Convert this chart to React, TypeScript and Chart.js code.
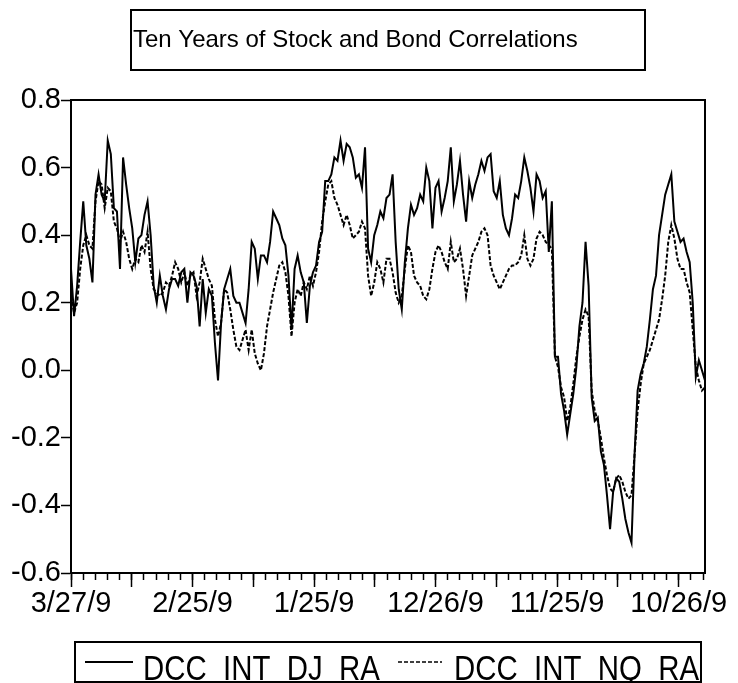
import React, { useEffect, useRef } from "react";
import { Chart, registerables } from "chart.js";

Chart.register(...registerables);

const FONT = "'Liberation Sans', Arial, Helvetica, sans-serif";
const NARROW = "'Liberation Sans Narrow', 'Arial Narrow'";

// Observations between two sampled points (trading days)
const OBS_STEP = 12.6;

// DCC_INT_DJ_RA (solid)
const djRa = [
  0.30, 0.16, 0.25, 0.38, 0.50, 0.37, 0.33, 0.26, 0.52, 0.58,
  0.52, 0.50, 0.68, 0.64, 0.48, 0.47, 0.30, 0.63, 0.55, 0.48,
  0.42, 0.32, 0.39, 0.40, 0.46, 0.50, 0.40, 0.25, 0.20, 0.28,
  0.22, 0.18, 0.24, 0.27, 0.27, 0.25, 0.29, 0.30, 0.20, 0.29,
  0.28, 0.25, 0.13, 0.27, 0.17, 0.24, 0.22, 0.08, -0.03, 0.14,
  0.24, 0.27, 0.30, 0.22, 0.20, 0.20, 0.17, 0.14, 0.24, 0.38,
  0.36, 0.27, 0.34, 0.34, 0.32, 0.38, 0.47, 0.45, 0.43, 0.39,
  0.37, 0.28, 0.12, 0.30, 0.34, 0.29, 0.26, 0.14, 0.25, 0.29,
  0.31, 0.38, 0.41, 0.56, 0.56, 0.58, 0.63, 0.62, 0.68, 0.62,
  0.67, 0.66, 0.63, 0.57, 0.58, 0.54, 0.66, 0.36, 0.32, 0.40,
  0.43, 0.47, 0.45, 0.51, 0.52, 0.58, 0.38, 0.24, 0.18, 0.32,
  0.42, 0.49, 0.46, 0.48, 0.52, 0.50, 0.60, 0.56, 0.42, 0.54,
  0.56, 0.47, 0.51, 0.56, 0.66, 0.50, 0.55, 0.62, 0.52, 0.44,
  0.56, 0.51, 0.55, 0.58, 0.62, 0.59, 0.63, 0.64, 0.53, 0.51,
  0.56, 0.46, 0.42, 0.40, 0.45, 0.52, 0.51, 0.56, 0.63, 0.59,
  0.54, 0.47, 0.58, 0.56, 0.51, 0.53, 0.35, 0.50, 0.04, 0.04,
  -0.07, -0.12, -0.19, -0.13, -0.07, 0.01, 0.13, 0.20, 0.38, 0.25,
  -0.08, -0.15, -0.14, -0.24, -0.28, -0.37, -0.47, -0.36, -0.32, -0.33,
  -0.38, -0.44, -0.48, -0.51, -0.25, -0.06, -0.01, 0.02, 0.07, 0.15,
  0.24, 0.28, 0.40, 0.46, 0.52, 0.55, 0.58, 0.44, 0.41, 0.38,
  0.39, 0.35, 0.32, 0.20, -0.02, 0.03, 0.00, -0.03,
];

// DCC_INT_NQ_RA (dashed)
const nqRa = [
  0.22, 0.17, 0.20, 0.30, 0.37, 0.40, 0.37, 0.36, 0.50, 0.56,
  0.55, 0.48, 0.54, 0.53, 0.44, 0.42, 0.38, 0.41, 0.38, 0.33,
  0.30, 0.33, 0.32, 0.37, 0.35, 0.41, 0.30, 0.24, 0.23, 0.22,
  0.23, 0.26, 0.25, 0.28, 0.32, 0.30, 0.26, 0.29, 0.25, 0.28,
  0.29, 0.22, 0.26, 0.33, 0.30, 0.27, 0.25, 0.15, 0.10, 0.14,
  0.24, 0.23, 0.18, 0.12, 0.07, 0.06, 0.09, 0.12, 0.06, 0.12,
  0.05, 0.02, 0.00, 0.05, 0.13, 0.18, 0.23, 0.27, 0.31, 0.32,
  0.29, 0.22, 0.10, 0.20, 0.24, 0.22, 0.26, 0.24, 0.28, 0.25,
  0.29, 0.35, 0.44, 0.50, 0.55, 0.56, 0.51, 0.49, 0.46, 0.43,
  0.46, 0.43, 0.39, 0.40, 0.41, 0.44, 0.42, 0.28, 0.22, 0.26,
  0.32, 0.30, 0.26, 0.33, 0.33, 0.29, 0.23, 0.20, 0.22, 0.30,
  0.37, 0.35, 0.28, 0.26, 0.25, 0.22, 0.21, 0.24, 0.30, 0.35,
  0.37, 0.35, 0.32, 0.30, 0.38, 0.32, 0.33, 0.36, 0.30, 0.22,
  0.28, 0.34, 0.36, 0.38, 0.41, 0.42, 0.40, 0.31, 0.28, 0.26,
  0.24, 0.26, 0.28, 0.30, 0.31, 0.31, 0.32, 0.34, 0.40, 0.33,
  0.31, 0.33, 0.39, 0.41, 0.40, 0.38, 0.37, 0.36, 0.04, 0.01,
  -0.05, -0.08, -0.15, -0.11, -0.04, 0.04, 0.10, 0.15, 0.18, 0.16,
  -0.06, -0.12, -0.15, -0.20, -0.26, -0.31, -0.35, -0.36, -0.32, -0.31,
  -0.33, -0.36, -0.38, -0.37, -0.25, -0.12, -0.04, 0.02, 0.04, 0.06,
  0.09, 0.12, 0.15, 0.21, 0.28, 0.38, 0.43, 0.39, 0.33, 0.30,
  0.30, 0.26, 0.23, 0.12, 0.01, -0.03, -0.06, -0.05,
];

const seriesNames = ["DCC_INT_DJ_RA", "DCC_INT_NQ_RA"];
const titleText = "Ten Years of Stock and Bond Correlations";

const xTickLabels = ["3/27/9", "2/25/9", "1/25/9", "12/26/9", "11/25/9", "10/26/9"];
const xTickObs = [0, 500, 1000, 1500, 2000, 2500];
const xMajorObs = [0, 250, 500, 750, 1000, 1250, 1500, 1750, 2000, 2250, 2500];
const xMinorObs = [
  0, 50, 100, 150, 200, 250, 300, 350, 400, 450, 500, 550, 600, 650, 700, 750,
  800, 850, 900, 950, 1000, 1050, 1100, 1150, 1200, 1250, 1300, 1350, 1400,
  1450, 1500, 1550, 1600, 1650, 1700, 1750, 1800, 1850, 1900, 1950, 2000,
  2050, 2100, 2150, 2200, 2250, 2300, 2350, 2400, 2450, 2500, 2550, 2600,
];
const yTicks = [-0.6, -0.4, -0.2, 0.0, 0.2, 0.4, 0.6, 0.8];

function fontInstalled(family: string): boolean {
  const c = document.createElement("canvas").getContext("2d");
  if (!c) return false;
  const t = "DCC_INT_DJ_RA 10/26/9 0.8";
  let diff = false;
  for (const fb of ["monospace", "serif"]) {
    c.font = `40px ${fb}`;
    const a = c.measureText(t).width;
    c.font = `40px ${family}, ${fb}`;
    const b = c.measureText(t).width;
    if (Math.abs(a - b) > 0.5) diff = true;
  }
  return diff;
}

export default function App() {
  const ref = useRef<HTMLCanvasElement>(null);

  useEffect(() => {
    const canvas = ref.current;
    if (!canvas) return;

    const narrowOk = fontInstalled("'Liberation Sans Narrow'") || fontInstalled("'Arial Narrow'");
    const tickFamily = narrowOk ? `${NARROW}, ${FONT}` : FONT;
    const yTickSize = narrowOk ? 32 : 29;
    const xTickSize = narrowOk ? 31 : 29;
    const legendSize = 35;
    const legendScale = narrowOk ? 1 : 0.84;

    const obs = djRa.map((_, i) => Math.round(i * OBS_STEP * 10) / 10);
    const lastObs = obs[obs.length - 1];

    const decorPlugin = {
      id: "decor",
      afterDraw(chart: any) {
        const { ctx, chartArea: a } = chart;
        ctx.save();
        ctx.strokeStyle = "#000";
        ctx.fillStyle = "#000";
        ctx.lineWidth = 2;
        // plot frame
        ctx.strokeRect(a.left, a.top, a.right - a.left, a.bottom - a.top);

        // title box
        ctx.strokeRect(131, 10, 514, 60);
        ctx.font = `24px ${FONT}`;
        ctx.textBaseline = "alphabetic";
        ctx.textAlign = "left";
        ctx.fillText(titleText, 133, 47);

        // legend box
        ctx.strokeRect(75, 642, 626, 40);
        ctx.beginPath();
        ctx.moveTo(85, 662);
        ctx.lineTo(133, 662);
        ctx.stroke();
        ctx.save();
        ctx.setLineDash([4, 2]);
        ctx.lineWidth = 1.5;
        ctx.beginPath();
        ctx.moveTo(398, 662);
        ctx.lineTo(442, 662);
        ctx.stroke();
        ctx.restore();

        ctx.font = `${legendSize}px ${tickFamily}`;
        const drawText = (t: string, x: number, y: number) => {
          ctx.save();
          ctx.translate(x, y);
          ctx.scale(legendScale, 1);
          ctx.fillText(t, 0, 0);
          ctx.restore();
        };
        drawText(seriesNames[0], 143, 680);
        drawText(seriesNames[1], 454, 680);
        ctx.restore();
      },
    };

    const chart = new Chart(canvas, {
      type: "line",
      data: {
        datasets: [
          {
            label: seriesNames[0],
            data: djRa.map((v, i) => ({ x: obs[i], y: v })),
            borderColor: "#000",
            borderWidth: 2,
            pointRadius: 0,
            tension: 0,
            fill: false,
            xAxisID: "x",
            yAxisID: "y",
          },
          {
            label: seriesNames[1],
            data: nqRa.map((v, i) => ({ x: obs[i], y: v })),
            borderColor: "#000",
            borderWidth: 2,
            borderDash: [4, 2],
            pointRadius: 0,
            tension: 0,
            fill: false,
            xAxisID: "x",
            yAxisID: "y",
          },
        ],
      },
      options: {
        animation: false,
        responsive: false,
        devicePixelRatio: 1,
        layout: { padding: { top: 100, right: 33, bottom: 70, left: 0 } },
        plugins: {
          legend: { display: false },
          title: { display: false },
          tooltip: { enabled: false },
        },
        scales: {
          x: {
            type: "linear",
            position: "bottom",
            min: 0,
            max: lastObs,
            weight: 1,
            afterBuildTicks: (s: any) => {
              s.ticks = xMajorObs.map((v) => ({ value: v }));
            },
            afterFit: (s: any) => {
              s.height = 40;
            },
            ticks: {
              autoSkip: false,
              maxRotation: 0,
              minRotation: 0,
              padding: 0,
              color: "#000",
              font: { family: tickFamily, size: xTickSize },
              callback: (v: any) => {
                const k = xTickObs.indexOf(Number(v));
                return k >= 0 ? xTickLabels[k] : "";
              },
            },
            grid: {
              display: true,
              drawOnChartArea: false,
              drawTicks: true,
              tickLength: 14,
              tickColor: "#000",
              tickWidth: 1.5,
            },
            border: { display: true, color: "#000", width: 2 },
          },
          xMinor: {
            type: "linear",
            position: "bottom",
            min: 0,
            max: lastObs,
            weight: 0,
            afterBuildTicks: (s: any) => {
              s.ticks = xMinorObs.map((v) => ({ value: v }));
            },
            afterFit: (s: any) => {
              s.height = 0;
            },
            ticks: { display: false },
            grid: {
              display: true,
              drawOnChartArea: false,
              drawTicks: true,
              tickLength: 7,
              tickColor: "#000",
              tickWidth: 1.5,
            },
            border: { display: false },
          },
          y: {
            type: "linear",
            position: "left",
            min: -0.6,
            max: 0.8,
            afterBuildTicks: (s: any) => {
              s.ticks = yTicks.map((v) => ({ value: v }));
            },
            afterFit: (s: any) => {
              s.width = 71;
            },
            ticks: {
              padding: 0,
              color: "#000",
              font: { family: tickFamily, size: yTickSize },
              callback: (v: any) => Number(v).toFixed(1),
            },
            grid: {
              display: true,
              drawOnChartArea: false,
              drawTicks: true,
              tickLength: 10,
              tickColor: "#000",
              tickWidth: 1.5,
            },
            border: { display: true, color: "#000", width: 2 },
          },
        },
      },
      plugins: [decorPlugin],
    } as any);

    return () => chart.destroy();
  }, []);

  return (
    <div
      style={{
        position: "fixed",
        left: 0,
        top: 0,
        width: 738,
        height: 683,
        background: "#fff",
      }}
    >
      <canvas
        ref={ref}
        width={738}
        height={683}
        style={{ display: "block", width: 738, height: 683 }}
      />
    </div>
  );
}
